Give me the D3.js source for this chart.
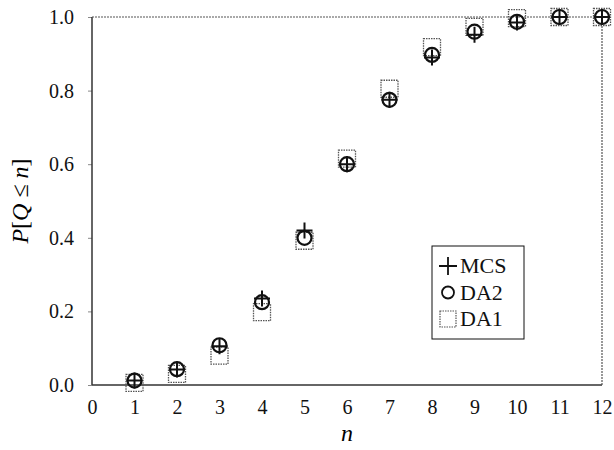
<!DOCTYPE html>
<html>
<head>
<meta charset="utf-8">
<script src="https://cdn.jsdelivr.net/npm/d3@7"></script>
<style>
body { margin: 0; background: #fff; }
</style>
</head>
<body>
<div id="chart-area"></div>
<script>
// Data
var nValues = [1, 2, 3, 4, 5, 6, 7, 8, 9, 10, 11, 12];
var mcs = [0.012, 0.042, 0.105, 0.235, 0.42, 0.60, 0.775, 0.89, 0.952, 0.985, 1.0, 1.0];
var da2 = [0.012, 0.043, 0.108, 0.225, 0.40, 0.60, 0.775, 0.897, 0.96, 0.987, 1.0, 1.0];
var da1 = [0.006, 0.03, 0.08, 0.198, 0.392, 0.615, 0.805, 0.918, 0.973, 0.997, 1.0, 1.0];
var xTicks = [0, 1, 2, 3, 4, 5, 6, 7, 8, 9, 10, 11, 12];
var yTicks = [0, 0.2, 0.4, 0.6, 0.8, 1.0];

var serif = 'Liberation Serif, Times New Roman, serif';

// Margin
var margin = {left: 92, right: 12, top: 17, bottom: 65};
var width = 614 - margin.left - margin.right,
    height = 450 - margin.top - margin.bottom;

var svg = d3.select('#chart-area')
    .append('svg')
        .attr('width', 614)
        .attr('height', 450)
        .style('font-family', serif);
var g = svg.append('g')
    .attr('transform', 'translate(' + margin.left + ',' + margin.top + ')');

// Scales
var x = d3.scaleLinear().domain([0, 12]).range([0, width]);
var y = d3.scaleLinear().domain([0, 1]).range([height, 0]);

// Y axis (small outside ticks)
var yAxisCall = d3.axisLeft(y)
    .tickValues(yTicks)
    .tickSize(4)
    .tickPadding(14)
    .tickFormat(d3.format('.1f'));
var yAxis = g.append('g').attr('class', 'y axis').call(yAxisCall);
yAxis.attr('font-family', null).attr('font-size', null);
yAxis.select('.domain').remove();
yAxis.selectAll('line').attr('stroke', '#888');
yAxis.selectAll('text')
    .style('font-family', serif)
    .style('font-size', '20px')
    .attr('fill', '#111');

// X axis (labels only)
var xAxisCall = d3.axisBottom(x)
    .tickValues(xTicks)
    .tickSize(0)
    .tickPadding(15)
    .tickFormat(d3.format('d'));
var xAxis = g.append('g')
    .attr('class', 'x axis')
    .attr('transform', 'translate(0,' + height + ')')
    .call(xAxisCall);
xAxis.attr('font-family', null).attr('font-size', null);
xAxis.select('.domain').remove();
xAxis.selectAll('text')
    .style('font-family', serif)
    .style('font-size', '20px')
    .attr('fill', '#111');

// Frame
g.append('line').attr('x1', 0).attr('x2', 0).attr('y1', 0).attr('y2', height)
    .attr('stroke', '#333').attr('stroke-width', 1.5);
g.append('line').attr('x1', 0).attr('x2', width).attr('y1', height).attr('y2', height)
    .attr('stroke', '#333').attr('stroke-width', 1.5);
g.append('line').attr('x1', 0).attr('x2', width).attr('y1', 0).attr('y2', 0)
    .attr('stroke', '#555').attr('stroke-width', 1.2).attr('stroke-dasharray', '2,1');
g.append('line').attr('x1', width).attr('x2', width).attr('y1', 0).attr('y2', height)
    .attr('stroke', '#555').attr('stroke-width', 1.2).attr('stroke-dasharray', '2,1');

// Labels
g.append('text')
    .attr('x', width / 2)
    .attr('y', height + 56)
    .attr('text-anchor', 'middle')
    .style('font-family', serif)
    .style('font-size', '24px')
    .style('font-style', 'italic')
    .text('n');

var yLabel = g.append('text')
    .attr('transform', 'translate(' + (-64) + ',' + (height / 2) + ') rotate(-90)')
    .attr('text-anchor', 'middle')
    .style('font-family', serif)
    .style('font-size', '24px');
yLabel.append('tspan').style('font-style', 'italic').text('P');
yLabel.append('tspan').text('[');
yLabel.append('tspan').style('font-style', 'italic').text('Q');
yLabel.append('tspan').text(' \u2264 ');
yLabel.append('tspan').style('font-style', 'italic').text('n');
yLabel.append('tspan').text(']');

// Markers
function plusPath(cx, cy, s) {
    return 'M' + (cx - s) + ',' + cy + 'H' + (cx + s) + 'M' + cx + ',' + (cy - s) + 'V' + (cy + s);
}

g.selectAll('.sq')
    .data(da1)
    .enter().append('rect')
        .attr('class', 'sq')
        .attr('x', function(d, i){ return x(nValues[i]) - 8.5; })
        .attr('y', function(d){ return y(d) - 8.5; })
        .attr('width', 17)
        .attr('height', 17)
        .attr('fill', 'none')
        .attr('stroke', '#555')
        .attr('stroke-width', 1.3)
        .attr('stroke-dasharray', '1.5,1');

g.selectAll('.ci')
    .data(da2)
    .enter().append('circle')
        .attr('class', 'ci')
        .attr('cx', function(d, i){ return x(nValues[i]); })
        .attr('cy', function(d){ return y(d); })
        .attr('r', 7)
        .attr('fill', 'none')
        .attr('stroke', '#111')
        .attr('stroke-width', 2.2);

g.selectAll('.pl')
    .data(mcs)
    .enter().append('path')
        .attr('class', 'pl')
        .attr('d', function(d, i){ return plusPath(x(nValues[i]), y(d), 8); })
        .attr('fill', 'none')
        .attr('stroke', '#111')
        .attr('stroke-width', 2);

// Legend
var legend = svg.append('g').attr('transform', 'translate(432,246)');
legend.append('rect')
    .attr('width', 92).attr('height', 93)
    .attr('fill', '#fff').attr('stroke', '#111').attr('stroke-width', 1);

var legendItems = ['MCS', 'DA2', 'DA1'];
legendItems.forEach(function(name, i){
    var cy = 20 + i * 26.5;
    var cx = 16;
    if (i === 0) {
        legend.append('path').attr('d', plusPath(cx, cy, 9))
            .attr('stroke', '#111').attr('stroke-width', 1.8).attr('fill', 'none');
    } else if (i === 1) {
        legend.append('circle').attr('cx', cx).attr('cy', cy).attr('r', 6)
            .attr('stroke', '#111').attr('stroke-width', 1.8).attr('fill', 'none');
    } else {
        legend.append('rect').attr('x', cx - 8).attr('y', cy - 8)
            .attr('width', 16).attr('height', 16)
            .attr('stroke', '#555').attr('stroke-width', 1.2)
            .attr('stroke-dasharray', '1.5,1').attr('fill', 'none');
    }
    legend.append('text')
        .attr('x', 28)
        .attr('y', cy + 7)
        .style('font-family', serif)
        .style('font-size', '22px')
        .attr('fill', '#111')
        .text(name);
});
</script>
</body>
</html>
